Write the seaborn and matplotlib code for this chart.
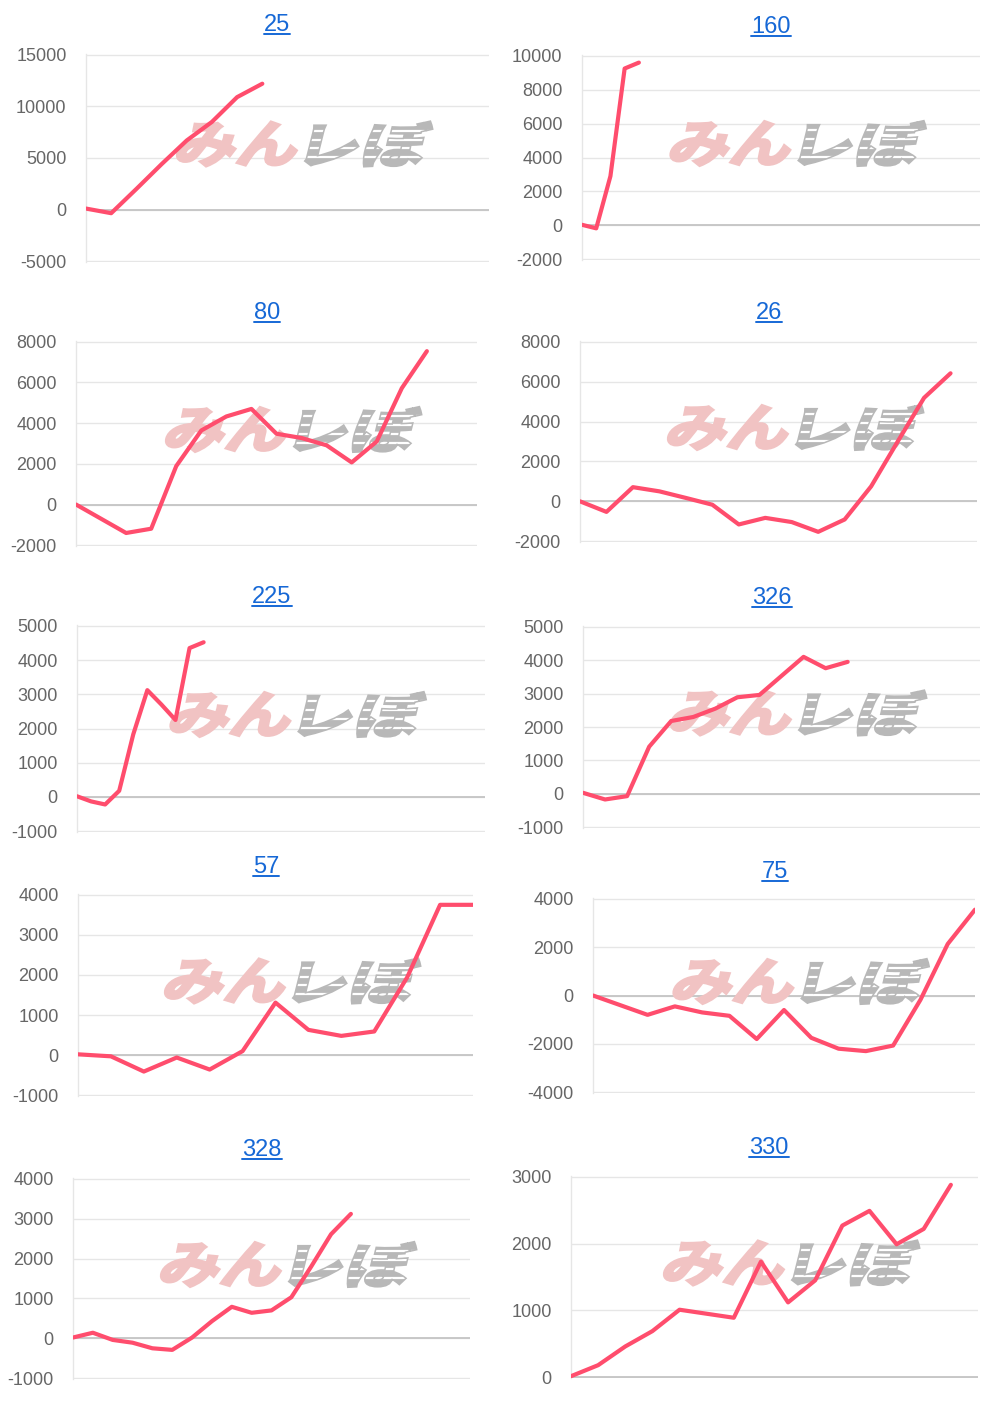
import numpy as np
import pandas as pd
import matplotlib
matplotlib.use("Agg")
import matplotlib.pyplot as plt
import seaborn as sns
from matplotlib.textpath import TextPath
from matplotlib.patches import PathPatch
from matplotlib.font_manager import FontProperties
from matplotlib.transforms import Affine2D, IdentityTransform
from matplotlib.lines import Line2D

# --- data ---
titles = ["25", "160", "80", "26", "225", "326", "57", "75", "328", "330"]

vals_25 = [100, -350, 2000, 4400, 6700, 8500, 10900, 12200]
vals_160 = [30, -180, 2900, 9250, 9600]
vals_80 = [0, -700, -1400, -1190, 1890, 3640, 4330, 4700, 3480, 3270, 2910, 2070, 3100, 5720, 7540]
vals_26 = [0, -530, 710, 500, 170, -170, -1160, -830, -1040, -1530, -910, 750, 2990, 5190, 6420]
vals_225 = [20, -130, -220, 180, 1830, 3120, 2700, 2250, 4350, 4520]
vals_326 = [30, -170, -70, 1410, 2180, 2300, 2550, 2890, 2960, 3530, 4100, 3760, 3950]
vals_57 = [20, -30, -410, -60, -360, 100, 1310, 630, 480, 590, 1940, 3750, 3750]
vals_75 = [0, -400, -800, -450, -700, -840, -1800, -600, -1750, -2200, -2300, -2070, -180, 2130, 3550]
vals_328 = [20, 140, -40, -110, -250, -290, 20, 430, 790, 640, 700, 1030, 1800, 2610, 3120]
vals_330 = [15, 180, 460, 690, 1010, 950, 890, 1730, 1120, 1450, 2270, 2490, 1990, 2220, 2880]

series = [vals_25, vals_160, vals_80, vals_26, vals_225,
          vals_326, vals_57, vals_75, vals_328, vals_330]

# number of x categories on each chart (line stops early on some)
n_slots = [17, 29, 17, 16, 30, 19, 13, 15, 21, 16]

# y axis ticks: min, max, step
y_min = [-5000, -2000, -2000, -2000, -1000, -1000, -1000, -4000, -1000, 0]
y_max = [15000, 10000, 8000, 8000, 5000, 5000, 4000, 4000, 4000, 3000]
y_step = [5000, 2000, 2000, 2000, 1000, 1000, 1000, 2000, 1000, 1000]

# --- layout (pixels: left, top, right, bottom of each plot area) ---
W, H = 1000, 1402
boxes = [(86, 54, 489, 262), (582, 55, 980, 260),
         (76, 341, 477, 546), (580, 341, 977, 542),
         (77, 625, 485, 832), (583, 626, 980, 828),
         (78, 894, 473, 1096), (593, 898, 975, 1093),
         (73, 1178, 470, 1379), (571, 1176, 978, 1378)]
title_pos = [(277, 25), (771, 27), (267, 313), (769, 313), (272, 597),
             (772, 598), (266, 867), (775, 872), (262, 1150), (769, 1148)]

LINE = "#ff4d6d"
GRID = "#e6e6e6"
ZERO = "#c4c4c4"
LINK = "#1668d6"
WM_PINK = "#f1c3c3"
WM_GRAY = "#b8b8b8"

sns.set_style("white")
plt.rcParams["font.family"] = ["Liberation Sans", "DejaVu Sans"]
plt.rcParams["axes.unicode_minus"] = False

fig = plt.figure(figsize=(W / 100, H / 100), dpi=100)
fp = FontProperties(family="Noto Sans CJK JP", weight="bold")


def px_axes(box):
    l, t, r, b = box
    return fig.add_axes([l / W, 1 - b / H, (r - l) / W, (b - t) / H])


def stamp(ax, text, x0, y0, w, h, color, stripes=False):
    """Skewed, stretched glyphs placed in figure pixels (y up)."""
    path = TextPath((0, 0), text, size=50, prop=fp)
    bb = path.get_extents()
    tr = (Affine2D().translate(-bb.x0, -bb.y0)
          .scale(w / bb.width, h / bb.height)
          .skew_deg(14, 0)
          .translate(x0, y0))
    patch = PathPatch(tr.transform_path(path), facecolor=color, edgecolor=color,
                      linewidth=2.2, transform=IdentityTransform(),
                      clip_on=False, zorder=2)
    ax.add_artist(patch)
    if stripes:
        for k in range(1, 5):
            yy = y0 + h * k / 5
            ln = Line2D([x0 - 10, x0 + w + 20], [yy, yy], color="white",
                        linewidth=1.6, transform=IdentityTransform(), zorder=2.1)
            ax.add_artist(ln)
            ln.set_clip_path(patch)


title_texts = []
for i, vals in enumerate(series):
    ax = px_axes(boxes[i])
    ax.set_facecolor("none")
    df = pd.DataFrame({"x": np.arange(len(vals)), "y": vals})
    sns.lineplot(data=df, x="x", y="y", ax=ax, color=LINE, linewidth=3.0, zorder=3)

    ticks = np.arange(y_min[i], y_max[i] + 1, y_step[i])
    pad = (y_max[i] - y_min[i]) * 0.004
    ax.set_ylim(y_min[i] - pad, y_max[i] + pad)
    ax.set_xlim(0, n_slots[i] - 1)
    ax.set_yticks(ticks)
    ax.set_xticks([])
    ax.set_xlabel("")
    ax.set_ylabel("")
    ax.yaxis.grid(True, color=GRID, linewidth=1)
    ax.set_axisbelow(True)
    if y_min[i] <= 0 <= y_max[i]:
        ax.axhline(0, color=ZERO, linewidth=1.3, zorder=1)
    for s in ["top", "right", "bottom"]:
        ax.spines[s].set_visible(False)
    ax.spines["left"].set_color(GRID)
    ax.spines["left"].set_linewidth(1)
    ax.tick_params(axis="y", length=9, width=1, color=GRID,
                   labelcolor="#666666", labelsize=13, pad=5)

    # watermark (みんレぼ) behind the line
    l, t, r, b = boxes[i]
    cx = (l + r) / 2 + 15
    cy = (t + b) / 2 - 14
    base = H - (cy + 22)
    stamp(ax, "みん", cx - 128, base, 118, 44, WM_PINK)
    stamp(ax, "レぼ", cx + 2, base, 118, 44, WM_GRAY, stripes=True)

    tx, ty = title_pos[i]
    tt = fig.text(tx / W, 1 - ty / H, titles[i], ha="center", va="center",
                  fontsize=17, color=LINK)
    title_texts.append(tt)

# underline the titles like links
fig.canvas.draw()
for tt in title_texts:
    bb = tt.get_window_extent()
    y = bb.y0 + 2
    fig.add_artist(Line2D([bb.x0, bb.x1], [y, y], transform=IdentityTransform(),
                          color=LINK, linewidth=1.4))

fig.savefig("out.png", dpi=100)
